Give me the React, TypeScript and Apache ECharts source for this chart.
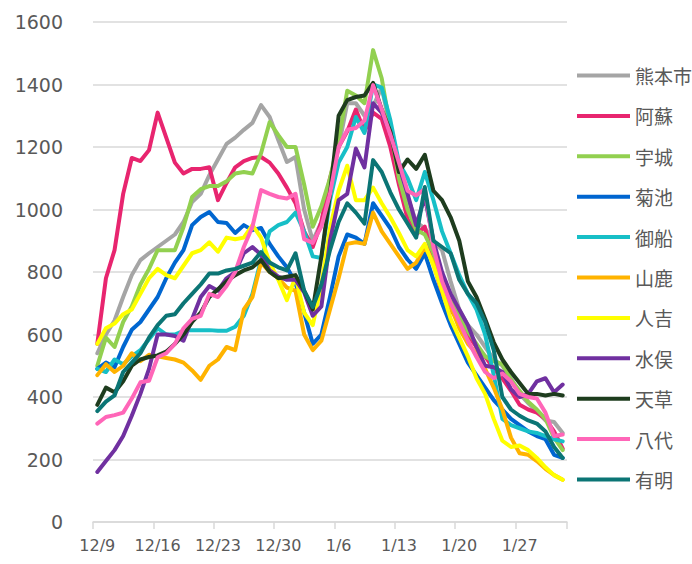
import React, { useEffect, useRef } from "react";
import * as echarts from "echarts";

const dates = [
  "12/9","12/10","12/11","12/12","12/13","12/14","12/15","12/16","12/17","12/18","12/19","12/20","12/21","12/22","12/23","12/24","12/25","12/26","12/27","12/28","12/29","12/30","12/31",
  "1/1","1/2","1/3","1/4","1/5","1/6","1/7","1/8","1/9","1/10","1/11","1/12","1/13","1/14","1/15","1/16","1/17","1/18","1/19","1/20","1/21","1/22","1/23","1/24","1/25","1/26","1/27","1/28","1/29","1/30","1/31",
  "2/1",
];

const yTicks = [0, 200, 400, 600, 800, 1000, 1200, 1400, 1600];

const kumamoto = [540,600,645,720,790,838,860,880,900,920,960,1024,1050,1110,1160,1210,1230,1255,1277,1334,1296,1222,1152,1168,1000,900,960,1080,1200,1340,1340,1300,1330,1390,1260,1140,1040,960,940,900,870,770,680,630,600,560,520,500,460,410,380,355,325,320,285];
const aso = [570,780,870,1050,1165,1155,1190,1310,1230,1150,1115,1130,1130,1135,1030,1085,1135,1155,1165,1168,1150,1115,1070,1020,930,880,960,1100,1200,1250,1320,1250,1310,1290,1200,1080,970,920,945,830,730,680,640,600,560,530,490,460,420,375,360,350,330,290,235];
const uki = [500,590,560,640,690,760,810,870,870,870,944,1040,1065,1075,1075,1090,1115,1120,1115,1180,1280,1238,1200,1200,1080,945,1010,1100,1220,1380,1365,1340,1510,1420,1260,1100,1000,935,920,860,780,720,660,610,570,530,515,505,455,420,385,360,330,270,230];
const kikuchi = [490,510,495,560,615,640,680,720,780,830,870,950,976,992,960,957,925,950,934,941,890,850,815,765,670,570,600,720,850,920,910,890,1020,980,940,880,840,810,860,775,700,630,570,510,470,430,390,360,330,310,290,275,265,215,205];
const mifune = [490,480,520,505,530,550,585,620,600,600,612,614,614,614,612,612,625,660,730,840,930,950,960,990,930,850,845,1030,1150,1200,1296,1245,1400,1390,1286,1150,1100,1030,1120,1030,930,860,790,730,680,600,470,330,310,300,290,285,275,265,258];
const yamaga = [470,505,480,500,540,515,535,530,525,520,510,485,455,500,520,560,550,680,720,830,800,780,750,740,600,550,580,680,780,890,895,890,990,930,890,850,810,830,880,830,760,690,620,570,540,490,430,360,270,220,215,195,170,150,135];
const hitoyoshi = [570,620,635,665,680,730,780,810,790,780,820,860,870,895,865,910,905,910,950,910,830,775,710,785,670,630,760,940,1060,1140,1030,1030,1070,1020,975,925,870,850,890,820,740,650,590,530,460,410,330,260,240,245,230,205,175,150,135];
const minamata = [160,195,230,275,340,410,490,600,600,595,580,650,720,755,740,780,800,860,880,855,805,785,775,775,735,660,690,900,1030,1050,1195,1135,1340,1310,1245,1140,1050,950,1040,900,800,730,680,630,560,500,495,480,425,400,410,450,460,415,440];
const amakusa = [375,430,415,450,500,520,528,533,545,570,600,640,670,720,745,770,790,805,815,838,800,780,785,790,740,680,850,1050,1300,1350,1360,1365,1405,1320,1250,1120,1160,1130,1175,1060,1030,975,900,770,720,650,575,520,480,445,410,410,405,410,405];
const yatsushiro = [315,336,342,350,395,447,452,527,540,570,620,650,660,730,720,755,800,880,945,1062,1050,1040,1035,1050,905,893,945,1050,1200,1255,1261,1285,1398,1320,1240,1150,1060,1045,1065,880,770,700,640,580,528,480,460,475,450,410,400,395,350,275,280];
const ariake = [355,385,405,480,510,540,590,630,660,665,700,730,760,795,795,805,810,820,830,864,830,815,805,860,740,688,760,870,960,1020,990,955,1158,1120,1055,1000,955,910,1072,900,880,860,775,730,700,640,550,400,360,340,325,315,290,240,205];

const seriesNames = ["熊本市","阿蘇","宇城","菊池","御船","山鹿","人吉","水俣","天草","八代","有明"];
const seriesData = [kumamoto, aso, uki, kikuchi, mifune, yamaga, hitoyoshi, minamata, amakusa, yatsushiro, ariake];
const seriesColors = ["#A5A5A5","#E8256F","#92D050","#0066D0","#17BFC7","#FFB300","#FFFF00","#7030A0","#1E3C1E","#FF66B8","#0B7575"];

export default function App() {
  const ref = useRef<HTMLDivElement>(null);
  useEffect(() => {
    if (!ref.current) return;
    const chart = echarts.init(ref.current, undefined, { renderer: "svg" });
    const textColor = "#595959";
    const font = "'DejaVu Sans', 'Noto Sans', sans-serif";
    const cjkFont = "'Noto Sans CJK JP', 'Noto Sans', sans-serif";
    chart.setOption({
      animation: false,
      backgroundColor: "#ffffff",
      grid: { left: 93, right: 125, top: 22, bottom: 42, containLabel: false },
      legend: {
        orient: "vertical",
        left: 572,
        top: 61,
        itemWidth: 53,
        itemHeight: 20,
        itemGap: 21.4,
        icon: "path://M0,0H53V4H0Z",
        symbolKeepAspect: true,
        data: seriesNames.map((n, i) => ({ name: n, itemStyle: { color: seriesColors[i] } })),
        textStyle: { color: textColor, fontSize: 19, fontFamily: cjkFont },
      },
      xAxis: {
        type: "category",
        data: dates,
        boundaryGap: true,
        axisLine: { show: true, lineStyle: { color: "#D9D9D9", width: 1.5 } },
        axisTick: { show: true, interval: 6, length: 7, lineStyle: { color: "#D9D9D9", width: 1.5 } },
        axisLabel: { interval: 6, color: textColor, fontSize: 16, fontFamily: font, margin: 15 },
        splitLine: { show: false },
      },
      yAxis: {
        type: "value",
        min: yTicks[0],
        max: yTicks[yTicks.length - 1],
        interval: 200,
        axisLine: { show: false },
        axisTick: { show: false },
        axisLabel: { color: textColor, fontSize: 19, fontFamily: font, margin: 30, formatter: (v: number) => String(v) },
        splitLine: { show: true, lineStyle: { color: "#D9D9D9", width: 1.5 } },
      },
      series: seriesNames.map((n, i) => ({
        name: n,
        type: "line",
        data: seriesData[i],
        symbol: "none",
        showSymbol: false,
        lineStyle: { color: seriesColors[i], width: 4, cap: "round", join: "round" },
        itemStyle: { color: seriesColors[i] },
      })),
    });
    return () => chart.dispose();
  }, []);
  return <div ref={ref} style={{ width: 692, height: 564, position: "absolute", left: 0, top: 0 }} />;
}
